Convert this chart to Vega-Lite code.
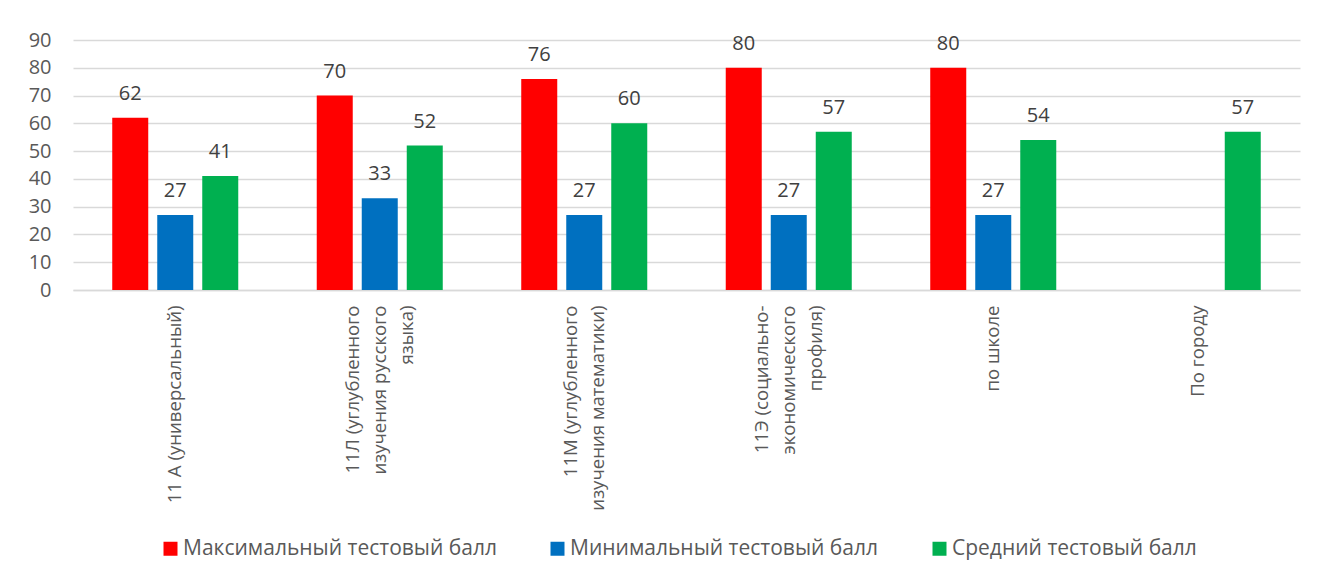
{
  "$schema": "https://vega.github.io/schema/vega-lite/v6.json",
  "width": 1227,
  "height": 250,
  "autosize": {"type": "none"},
  "padding": {"left": 73, "top": 40, "right": 18, "bottom": 291},
  "background": "white",
  "config": {"view": {"stroke": null}, "font": "Open Sans"},
  "data": {
    "values": [
      {"klass": "11 А (универсальный)", "series": "Максимальный тестовый балл", "score": 62},
      {"klass": "11 А (универсальный)", "series": "Минимальный тестовый балл", "score": 27},
      {"klass": "11 А (универсальный)", "series": "Средний тестовый балл", "score": 41},
      {"klass": "11Л (углубленного\nизучения русского\nязыка)", "series": "Максимальный тестовый балл", "score": 70},
      {"klass": "11Л (углубленного\nизучения русского\nязыка)", "series": "Минимальный тестовый балл", "score": 33},
      {"klass": "11Л (углубленного\nизучения русского\nязыка)", "series": "Средний тестовый балл", "score": 52},
      {"klass": "11М (углубленного\nизучения математики)", "series": "Максимальный тестовый балл", "score": 76},
      {"klass": "11М (углубленного\nизучения математики)", "series": "Минимальный тестовый балл", "score": 27},
      {"klass": "11М (углубленного\nизучения математики)", "series": "Средний тестовый балл", "score": 60},
      {"klass": "11Э (социально-\nэкономического\nпрофиля)", "series": "Максимальный тестовый балл", "score": 80},
      {"klass": "11Э (социально-\nэкономического\nпрофиля)", "series": "Минимальный тестовый балл", "score": 27},
      {"klass": "11Э (социально-\nэкономического\nпрофиля)", "series": "Средний тестовый балл", "score": 57},
      {"klass": "по школе", "series": "Максимальный тестовый балл", "score": 80},
      {"klass": "по школе", "series": "Минимальный тестовый балл", "score": 27},
      {"klass": "по школе", "series": "Средний тестовый балл", "score": 54},
      {"klass": "По городу", "series": "Средний тестовый балл", "score": 57}
    ]
  },
  "encoding": {
    "x": {
      "field": "klass",
      "type": "nominal",
      "sort": null,
      "scale": {"paddingInner": 0, "paddingOuter": 0},
      "axis": {
        "title": null,
        "labelAngle": -90,
        "labelAlign": "right",
        "labelBaseline": "middle",
        "labelExpr": "length(split(datum.label, '\\n')) == 1 ? datum.label : length(split(datum.label, '\\n')) == 2 ? [pad(split(datum.label, '\\n')[0], max(length(split(datum.label, '\\n')[0]), length(split(datum.label, '\\n')[1])), '\u2007', 'center'), pad(split(datum.label, '\\n')[1], max(length(split(datum.label, '\\n')[0]), length(split(datum.label, '\\n')[1])), '\u2007', 'center')] : [pad(split(datum.label, '\\n')[0], max(length(split(datum.label, '\\n')[0]), length(split(datum.label, '\\n')[1]), length(split(datum.label, '\\n')[2])), '\u2007', 'center'), pad(split(datum.label, '\\n')[1], max(length(split(datum.label, '\\n')[0]), length(split(datum.label, '\\n')[1]), length(split(datum.label, '\\n')[2])), '\u2007', 'center'), pad(split(datum.label, '\\n')[2], max(length(split(datum.label, '\\n')[0]), length(split(datum.label, '\\n')[1]), length(split(datum.label, '\\n')[2])), '\u2007', 'center')]",
        "labelOffset": {
          "condition": [
            {"test": "length(split(datum.value, '\\n')) == 3", "value": -27},
            {"test": "length(split(datum.value, '\\n')) == 2", "value": -13.5}
          ],
          "value": 0
        },
        "labelLineHeight": 27,
        "labelFontSize": 18.6,
        "labelColor": "#595959",
        "labelPadding": 15,
        "labelLimit": 0,
        "ticks": false,
        "domainColor": "#d9d9d9",
        "domainWidth": 1.5,
        "grid": false
      }
    },
    "xOffset": {
      "field": "series",
      "type": "nominal",
      "sort": ["Максимальный тестовый балл", "Минимальный тестовый балл", "Средний тестовый балл"],
      "scale": {"paddingInner": 0.2, "paddingOuter": 0.872}
    },
    "y": {
      "field": "score",
      "type": "quantitative",
      "scale": {"domain": [0, 90]},
      "axis": {
        "title": null,
        "values": [0, 10, 20, 30, 40, 50, 60, 70, 80, 90],
        "domain": false,
        "ticks": false,
        "labelPadding": 22,
        "labelFontSize": 20,
        "labelColor": "#595959",
        "gridColor": "#d9d9d9",
        "gridWidth": 1.5
      }
    }
  },
  "layer": [
    {
      "mark": {"type": "bar"},
      "encoding": {
        "color": {
          "field": "series",
          "type": "nominal",
          "sort": ["Максимальный тестовый балл", "Минимальный тестовый балл", "Средний тестовый балл"],
          "scale": {"range": ["#FF0000", "#0070C0", "#00B050"]},
          "legend": {
            "title": null,
            "orient": "none",
            "legendX": 87,
            "legendY": 498,
            "direction": "horizontal",
            "symbolType": "square",
            "symbolSize": 196,
            "symbolStrokeWidth": 0,
            "labelFontSize": 21,
            "labelOffset": 2,
            "labelLimit": 0,
            "labelColor": "#595959",
            "columnPadding": 50
          }
        }
      }
    },
    {
      "mark": {"type": "text", "baseline": "alphabetic", "dy": -18, "fontSize": 20, "color": "#404040"},
      "encoding": {"text": {"field": "score", "type": "quantitative"}}
    }
  ]
}
